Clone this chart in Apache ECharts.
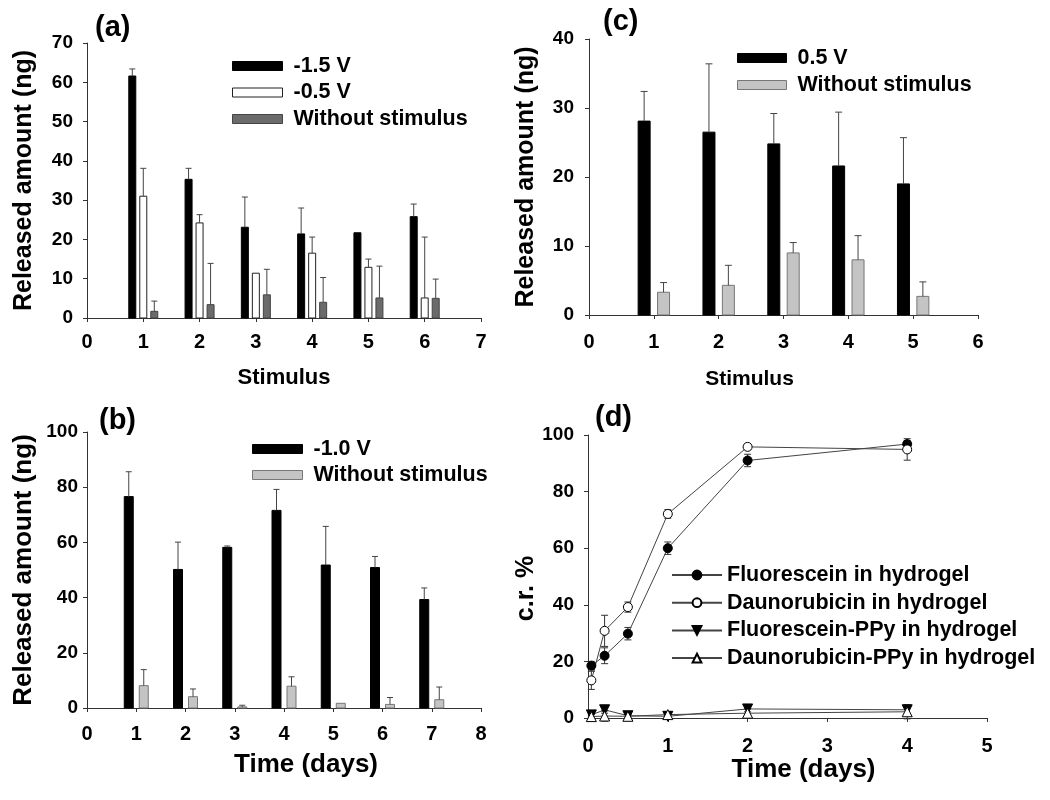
<!DOCTYPE html>
<html><head><meta charset="utf-8">
<script src="https://cdn.jsdelivr.net/npm/echarts@6/dist/echarts.min.js"></script>
<style>html,body{margin:0;padding:0;background:#fff}#chart{width:1050px;height:800px}</style>
</head><body><div id="chart"></div>
<script>
// ---------- Panel (a) ----------
const aStim = [1, 2, 3, 4, 5, 6];
const aNeg15 = [61.6, 35.3, 23.1, 21.4, 21.7, 25.8];
const aNeg15Err = [1.8, 2.8, 7.7, 6.6, 0, 3.2];
const aNeg05 = [31.0, 24.2, 11.4, 16.5, 12.9, 5.1];
const aNeg05Err = [7.1, 2.1, 0, 4.1, 2.1, 15.5];
const aNone = [1.7, 3.4, 5.9, 4.0, 5.1, 5.0];
const aNoneErr = [2.6, 10.5, 6.5, 6.3, 8.1, 4.9];
// ---------- Panel (b) ----------
const bDays = [1, 2, 3, 4, 5, 6, 7];
const bNeg10 = [76.6, 50.2, 58.2, 71.6, 51.8, 50.9, 39.3];
const bNeg10Err = [9.0, 9.9, 0.5, 7.6, 14.0, 4.0, 4.2];
const bNone = [8.1, 4.1, 0.4, 7.9, 1.7, 1.3, 3.0];
const bNoneErr = [5.8, 2.8, 0.6, 3.4, 0, 2.5, 4.6];
// ---------- Panel (c) ----------
const cStim = [1, 2, 3, 4, 5];
const cPos05 = [28.1, 26.5, 24.8, 21.6, 19.0];
const cPos05Err = [4.3, 9.9, 4.4, 7.8, 6.7];
const cNone = [3.3, 4.3, 9.0, 8.0, 2.7];
const cNoneErr = [1.4, 2.9, 1.5, 3.5, 2.1];
// ---------- Panel (d) ----------
const dDays = [0.042, 0.208, 0.5, 1, 2, 4];
const dFluor = [18.5, 22.0, 29.8, 60.0, 91.0, 96.8];
const dFluorErr = [1.5, 2.8, 2.2, 2.2, 2.2, 1.2];
const dDauno = [13.3, 30.8, 39.2, 72.1, 95.8, 94.9];
const dDaunoErr = [3.2, 5.5, 1.8, 1.5, 1.0, 3.8];
const dFluorPPy = [1.1, 2.9, 0.8, 0.6, 3.2, 2.9];
const dFluorPPyErr = [0.5, 1.2, 0.5, 0.5, 1.0, 1.5];
const dDaunoPPy = [0.5, 0.7, 0.6, 1.2, 1.7, 2.2];
const dDaunoPPyErr = [0.8, 1.8, 0.8, 1.0, 1.5, 2.5];

const FONT = 'Liberation Sans, Arial, sans-serif';
const AX = '#333';

function barSeries(name, xs, ys, errs, gi, off, w, fill, stroke, capW) {
  return {
    type: 'custom', name: name, xAxisIndex: gi, yAxisIndex: gi,
    data: xs.map((x, i) => [x, ys[i], errs[i]]),
    encode: { x: 0, y: 1 },
    itemStyle: { color: fill, borderColor: stroke },
    renderItem: function (params, api) {
      const x = api.value(0), y = api.value(1), e = api.value(2);
      const base = api.coord([x, 0]);
      const top = api.coord([x, y]);
      const et = api.coord([x, y + e]);
      const cx = base[0] + off;
      const ch = [{
        type: 'rect',
        shape: { x: cx - w / 2, y: top[1], width: w, height: base[1] - top[1] },
        style: { fill: fill, stroke: stroke, lineWidth: 1 }
      }];
      if (e > 0) {
        ch.push({ type: 'line', shape: { x1: cx, y1: top[1], x2: cx, y2: et[1] }, style: { stroke: '#444', lineWidth: 1 } });
        ch.push({ type: 'line', shape: { x1: cx - capW / 2, y1: et[1], x2: cx + capW / 2, y2: et[1] }, style: { stroke: '#444', lineWidth: 1 } });
      }
      return { type: 'group', children: ch };
    }
  };
}

function errSeries(xs, ys, errs, gi) {
  return {
    type: 'custom', xAxisIndex: gi, yAxisIndex: gi, z: 1, silent: true,
    data: xs.map((x, i) => [x, ys[i] - errs[i], ys[i] + errs[i]]),
    encode: { x: 0, y: [1, 2] },
    renderItem: function (params, api) {
      const x = api.value(0);
      const lo = api.coord([x, api.value(1)]);
      const hi = api.coord([x, api.value(2)]);
      const s = { stroke: '#333', lineWidth: 1 };
      return { type: 'group', children: [
        { type: 'line', shape: { x1: lo[0], y1: lo[1], x2: hi[0], y2: hi[1] }, style: s },
        { type: 'line', shape: { x1: lo[0] - 3.5, y1: lo[1], x2: lo[0] + 3.5, y2: lo[1] }, style: s },
        { type: 'line', shape: { x1: hi[0] - 3.5, y1: hi[1], x2: hi[0] + 3.5, y2: hi[1] }, style: s }
      ] };
    }
  };
}

function lineSeries(name, xs, ys, gi, symbol, fill, rotate) {
  return {
    type: 'line', name: name, xAxisIndex: gi, yAxisIndex: gi, z: 3,
    data: xs.map((x, i) => [x, ys[i]]),
    symbol: symbol, symbolSize: symbol === 'circle' ? 9 : 10, showAllSymbol: true,
    symbolRotate: rotate,
    lineStyle: { color: '#444', width: 1 },
    itemStyle: { color: fill, borderColor: '#000', borderWidth: 1 }
  };
}

function xAx(gi, max, name, nameSize, nameGap, namePad, margin) {
  return {
    type: 'value', gridIndex: gi, min: 0, max: max, interval: 1,
    name: name, nameLocation: 'middle', nameGap: nameGap,
    nameTextStyle: { fontSize: nameSize, fontWeight: 'bold', fontFamily: FONT, color: '#000', padding: namePad, verticalAlign: 'top' },
    axisLine: { show: true, onZero: false, lineStyle: { color: AX, width: 1 } },
    axisTick: { show: true, length: 4, lineStyle: { color: AX } },
    axisLabel: { fontSize: 20, fontWeight: 'bold', fontFamily: FONT, color: '#000', margin: margin },
    splitLine: { show: false }
  };
}
function yAx(gi, max, interval, name, nameSize, nameGap, namePad, margin) {
  return {
    type: 'value', gridIndex: gi, min: 0, max: max, interval: interval,
    name: name, nameLocation: 'middle', nameRotate: 90, nameGap: nameGap,
    nameTextStyle: { fontSize: nameSize, fontWeight: 'bold', fontFamily: FONT, color: '#000', padding: namePad },
    axisLine: { show: true, lineStyle: { color: AX, width: 1 } },
    axisTick: { show: true, length: 4, lineStyle: { color: AX } },
    axisLabel: { fontSize: 19, fontWeight: 'bold', fontFamily: FONT, color: '#000', margin: margin },
    splitLine: { show: false }
  };
}

const legText = { fontSize: 21.5, fontWeight: 'bold', fontFamily: FONT, color: '#000', lineHeight: 24, padding: [0, 0, 0, 6] };
const legTextD = { fontSize: 21.5, fontWeight: 'bold', fontFamily: FONT, color: '#000', lineHeight: 24, padding: [0, 0, 0, 0] };
const fmt = n => n.split('|').pop();

const option = {
  animation: false,
  backgroundColor: '#fff',
  title: [
    { text: '(a)', left: 90, top: 8, textStyle: { fontSize: 29, fontWeight: 'bold', fontFamily: FONT, color: '#000' } },
    { text: '(c)', left: 598, top: 2, textStyle: { fontSize: 29, fontWeight: 'bold', fontFamily: FONT, color: '#000' } },
    { text: '(b)', left: 94, top: 401, textStyle: { fontSize: 29, fontWeight: 'bold', fontFamily: FONT, color: '#000' } },
    { text: '(d)', left: 590, top: 398, textStyle: { fontSize: 29, fontWeight: 'bold', fontFamily: FONT, color: '#000' } }
  ],
  grid: [
    { left: 87, right: 569, top: 43, bottom: 482 },
    { left: 589, right: 72, top: 39, bottom: 485 },
    { left: 87, right: 569, top: 432, bottom: 92 },
    { left: 588, right: 63, top: 435, bottom: 82 }
  ],
  xAxis: [
    xAx(0, 7, 'Stimulus', 22, 49, [0, 0, 0, 0], 14),
    xAx(1, 6, 'Stimulus', 21, 54, [0, 68, 0, 0], 17),
    xAx(2, 8, 'Time (days)', 26, 44, [0, 0, 0, 44], 16),
    xAx(3, 5, 'Time (days)', 26, 34, [0, 0, 0, 32], 18)
  ],
  yAxis: [
    yAx(0, 70, 10, 'Released amount (ng)', 25, 50, 0, 14),
    yAx(1, 40, 10, 'Released amount (ng)', 25, 50, 0, 15),
    yAx(2, 100, 20, 'Released amount (ng)', 26, 50, 0, 9),
    yAx(3, 100, 20, 'c.r. %', 25, 42, [0, 24, 0, 0], 14)
  ],
  legend: [
    { orient: 'vertical', left: 227, top: 49, itemWidth: 50, itemHeight: 9, itemGap: 2.5, selectedMode: false,
      textStyle: legText, formatter: fmt,
      data: [
        { name: '-1.5 V', icon: 'rect', itemStyle: { color: '#000', borderColor: '#000', borderWidth: 1 } },
        { name: '-0.5 V', icon: 'rect', itemStyle: { color: '#fff', borderColor: '#222', borderWidth: 1 } },
        { name: 'a|Without stimulus', icon: 'rect', itemStyle: { color: '#6b6b6b', borderColor: '#444', borderWidth: 1 } }
      ] },
    { orient: 'vertical', left: 732, top: 41, itemWidth: 49, itemHeight: 9, itemGap: 3, selectedMode: false,
      textStyle: legText, formatter: fmt,
      data: [
        { name: '0.5 V', icon: 'rect', itemStyle: { color: '#000', borderColor: '#000', borderWidth: 1 } },
        { name: 'c|Without stimulus', icon: 'rect', itemStyle: { color: '#c4c4c4', borderColor: '#777', borderWidth: 1 } }
      ] },
    { orient: 'vertical', left: 247, top: 432, itemWidth: 50, itemHeight: 9, itemGap: 2, selectedMode: false,
      textStyle: legText, formatter: fmt,
      data: [
        { name: '-1.0 V', icon: 'rect', itemStyle: { color: '#000', borderColor: '#000', borderWidth: 1 } },
        { name: 'b|Without stimulus', icon: 'rect', itemStyle: { color: '#c4c4c4', borderColor: '#777', borderWidth: 1 } }
      ] },
    { orient: 'vertical', left: 666, top: 558, itemWidth: 50, itemHeight: 11, itemGap: 3.7, selectedMode: false,
      textStyle: legTextD,
      data: ['Fluorescein in hydrogel', 'Daunorubicin in hydrogel', 'Fluorescein-PPy in hydrogel', 'Daunorubicin-PPy in hydrogel'] }
  ],
  series: [
    barSeries('-1.5 V', aStim, aNeg15, aNeg15Err, 0, -11, 7, '#000', '#000', 6),
    barSeries('-0.5 V', aStim, aNeg05, aNeg05Err, 0, 0, 7, '#fff', '#222', 6),
    barSeries('a|Without stimulus', aStim, aNone, aNoneErr, 0, 11, 7, '#6b6b6b', '#444', 6),
    barSeries('0.5 V', cStim, cPos05, cPos05Err, 1, -9.7, 12, '#000', '#000', 7),
    barSeries('c|Without stimulus', cStim, cNone, cNoneErr, 1, 9.7, 12, '#c4c4c4', '#777', 7),
    barSeries('-1.0 V', bDays, bNeg10, bNeg10Err, 2, -7.5, 9, '#000', '#000', 6),
    barSeries('b|Without stimulus', bDays, bNone, bNoneErr, 2, 7.5, 9, '#c4c4c4', '#777', 6),
    errSeries(dDays, dFluor, dFluorErr, 3),
    errSeries(dDays, dDauno, dDaunoErr, 3),
    errSeries(dDays, dFluorPPy, dFluorPPyErr, 3),
    errSeries(dDays, dDaunoPPy, dDaunoPPyErr, 3),
    lineSeries('Fluorescein in hydrogel', dDays, dFluor, 3, 'circle', '#000', 0),
    lineSeries('Daunorubicin in hydrogel', dDays, dDauno, 3, 'circle', '#fff', 0),
    lineSeries('Fluorescein-PPy in hydrogel', dDays, dFluorPPy, 3, 'triangle', '#000', 180),
    lineSeries('Daunorubicin-PPy in hydrogel', dDays, dDaunoPPy, 3, 'triangle', '#fff', 0)
  ]
};

const chart = echarts.init(document.getElementById('chart'), null, { renderer: 'canvas' });
chart.setOption(option);
</script>
</body></html>
